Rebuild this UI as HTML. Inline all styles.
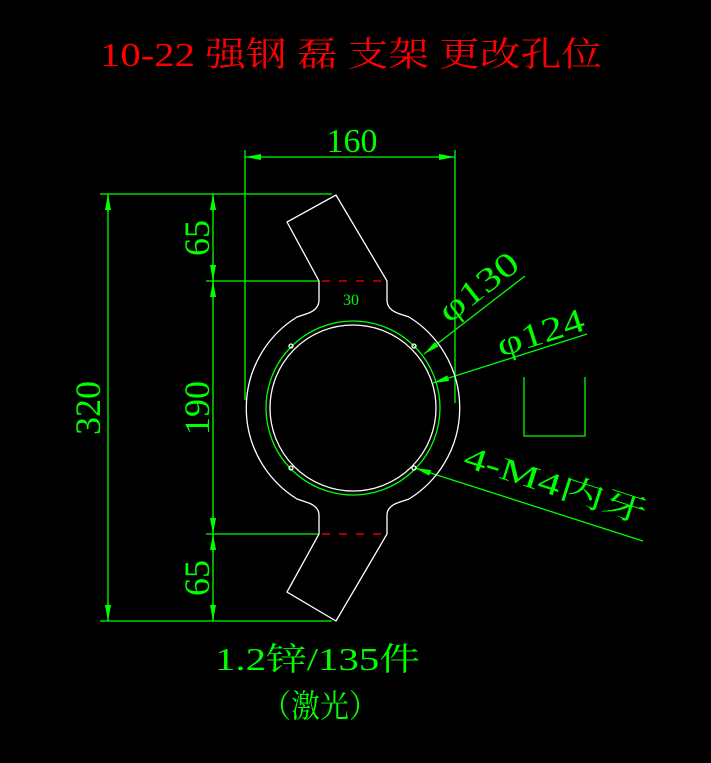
<!DOCTYPE html>
<html><head><meta charset="utf-8"><style>
html,body{margin:0;padding:0;background:#000;width:711px;height:763px;overflow:hidden}
svg{display:block}
text{font-family:"Liberation Serif","Noto Serif CJK SC",serif}
</style></head><body>
<svg width="711" height="763" viewBox="0 0 711 763" xmlns="http://www.w3.org/2000/svg">
<defs>
<marker id="a" viewBox="0 0 16 6" refX="16" refY="3" markerWidth="16" markerHeight="6" markerUnits="userSpaceOnUse" orient="auto"><path d="M0,0 L16,3 L0,6 Z" fill="#0f0"/></marker>
</defs>
<text x="100" y="66" font-size="34" fill="#f00" textLength="502" lengthAdjust="spacingAndGlyphs">10-22 强钢 磊 支架 更改孔位</text>

<g stroke="#0f0" stroke-width="1.3" fill="none">
<line x1="245" y1="150" x2="245" y2="400"/>
<line x1="455" y1="150" x2="455" y2="403"/>
<line x1="262" y1="157" x2="245" y2="157" marker-end="url(#a)"/>
<line x1="438" y1="157" x2="455" y2="157" marker-end="url(#a)"/>
<line x1="262" y1="157" x2="438" y2="157"/>
<line x1="100" y1="194" x2="332" y2="194"/>
<line x1="100" y1="621" x2="332" y2="621"/>
<line x1="108" y1="194" x2="108" y2="621"/>
<line x1="108" y1="212" x2="108" y2="194" marker-end="url(#a)"/>
<line x1="108" y1="603" x2="108" y2="621" marker-end="url(#a)"/>
<line x1="206" y1="281" x2="318" y2="281"/>
<line x1="206" y1="534" x2="318" y2="534"/>
<line x1="213" y1="194" x2="213" y2="621"/>
<line x1="213" y1="212" x2="213" y2="194" marker-end="url(#a)"/>
<line x1="213" y1="263" x2="213" y2="281" marker-end="url(#a)"/>
<line x1="213" y1="299" x2="213" y2="281" marker-end="url(#a)"/>
<line x1="213" y1="516" x2="213" y2="534" marker-end="url(#a)"/>
<line x1="213" y1="552" x2="213" y2="534" marker-end="url(#a)"/>
<line x1="213" y1="603" x2="213" y2="621" marker-end="url(#a)"/>
<line x1="525" y1="276" x2="424" y2="354" marker-end="url(#a)"/>
<line x1="587" y1="334" x2="433" y2="383" marker-end="url(#a)"/>
<line x1="643" y1="541" x2="415" y2="468" marker-end="url(#a)"/>
<circle cx="353" cy="408" r="87"/>
<path d="M524,377 V436 H585 V377"/>
</g>

<g fill="#0f0">
<text x="352" y="152" font-size="34" text-anchor="middle">160</text>
<text transform="translate(100,408) rotate(-90)" font-size="36" text-anchor="middle">320</text>
<text transform="translate(209,408) rotate(-90)" font-size="36" text-anchor="middle">190</text>
<text transform="translate(209,238) rotate(-90)" font-size="36" text-anchor="middle">65</text>
<text transform="translate(209,578) rotate(-90)" font-size="36" text-anchor="middle">65</text>
<text transform="translate(449,324) rotate(-37.8)" font-size="34" textLength="92" lengthAdjust="spacingAndGlyphs">φ130</text>
<text transform="translate(501,357) rotate(-17.7)" font-size="34" textLength="90" lengthAdjust="spacingAndGlyphs">φ124</text>
<text transform="translate(462,466) rotate(17.8)" font-size="32" textLength="190" lengthAdjust="spacingAndGlyphs">4-M4内牙</text>
<text x="351" y="305" font-size="16" text-anchor="middle" font-family="'Liberation Sans',sans-serif">30</text>
<text x="215" y="670" font-size="32" textLength="205" lengthAdjust="spacingAndGlyphs">1.2锌/135件</text>
<text x="262" y="717" font-size="32" textLength="116" lengthAdjust="spacingAndGlyphs">（激光）</text>
</g>

<g stroke="#fff" stroke-width="1.3" fill="none">
<path d="M319,281 L319,300 Q319,310 306,314 L297,317 A107,107 0 0 0 297,499 L306,502 Q319,506 319,515 L319,534 L287,592 L336,621 L387,534 L387,515 Q387,506 400,502 L409,499 A107,107 0 0 0 409,317 L400,314 Q387,310 387,300 L387,281 L336,195 L287,222 Z"/>
<circle cx="353" cy="408" r="83"/>
<circle cx="291" cy="346" r="2"/>
<circle cx="414" cy="346" r="2"/>
<circle cx="291" cy="468" r="2"/>
<circle cx="414" cy="468" r="2"/>
</g>
<g stroke="#f00" stroke-width="1.3" stroke-dasharray="8,9">
<line x1="322" y1="281" x2="386" y2="281"/>
<line x1="322" y1="534" x2="386" y2="534"/>
</g>
</svg>
</body></html>
